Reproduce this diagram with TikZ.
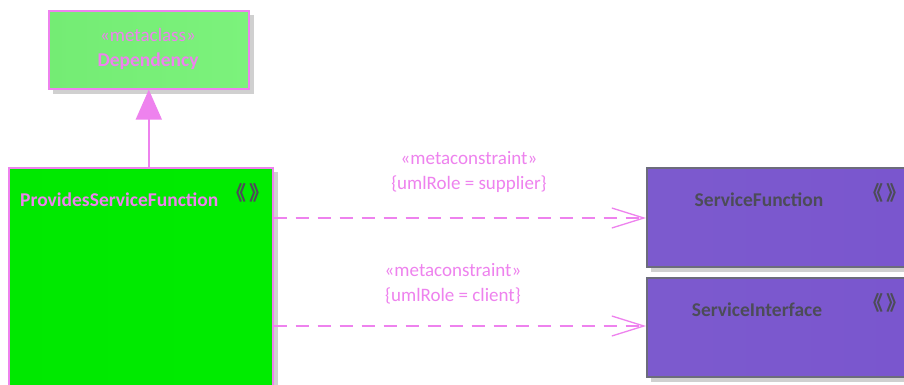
\documentclass[tikz,border=0pt]{standalone}
\usepackage{fontspec}
\setmainfont{Carlito}
\newfontfamily\cjkfont{Noto Sans CJK SC}
\usetikzlibrary{positioning, arrows.meta}

\definecolor{umlviolet}{HTML}{EE82EE}
\definecolor{darkgreytext}{HTML}{4C4C58}
\definecolor{boxgrey}{HTML}{6C6C7C}
\definecolor{shadowgrey}{HTML}{D0D0D0}
\definecolor{metagreenL}{HTML}{74EC74}
\definecolor{metagreenM}{HTML}{9CF49C}
\definecolor{metagreenR}{HTML}{7CF27C}
\definecolor{stgreenL}{HTML}{00E800}
\definecolor{stgreenM}{HTML}{10FA10}
\definecolor{stgreenR}{HTML}{00EC00}
\definecolor{classvioletL}{HTML}{7C5ACE}
\definecolor{classvioletM}{HTML}{9070DA}
\definecolor{classvioletR}{HTML}{7A56CE}

\newcommand{\guillpair}{{\cjkfont\bfseries\fontsize{20}{22}\selectfont 《\kern3pt》}}

\tikzset{
    metabox/.style={draw=umlviolet, line width=1.6pt, anchor=north west, inner sep=0pt},
    classbox/.style={metabox, draw=boxgrey, minimum width=262pt, minimum height=99pt,
        left color=classvioletL, middle color=classvioletM, right color=classvioletR},
    stereo/.style={text=umlviolet, font=\fontsize{19}{22}\selectfont},
    title/.style={font=\fontsize{19.5}{22}\selectfont\bfseries},
    marker/.style={text=darkgreytext, anchor=center, inner sep=0pt},
    constraint/.style={umlviolet, line width=1.3pt, dash pattern=on 13pt off 9pt,
        -{Straight Barb[length=32pt, width=20pt]}},
}

\begin{document}
\begin{tikzpicture}[x=1pt, y=-1pt]
    \useasboundingbox (0,0) rectangle (904,385);
    \clip (0,0) rectangle (904,385);
    \fill[white] (0,0) rectangle (904,385);

    % Shadows
    \fill[shadowgrey] (53,15) rectangle (254,94);
    \fill[shadowgrey] (13,172) rectangle (278,400);
    \fill[shadowgrey] (651,172) rectangle (910,272);
    \fill[shadowgrey] (651,282) rectangle (910,382);

    % Metaclass
    \node[metabox, minimum width=200pt, minimum height=78pt,
          left color=metagreenL, middle color=metagreenM, right color=metagreenR] (dep) at (48,10) {};
    \node[stereo] at (148,35) {«metaclass»};
    \node[stereo, title] at (148,61) {Dependency};

    % Stereotype
    \node[metabox, minimum width=264pt, minimum height=240pt,
          left color=stgreenL, middle color=stgreenM, right color=stgreenR] (psf) at (8,167) {};
    \node[title, text=umlviolet, anchor=west, inner sep=0pt] at (20,200) {ProvidesServiceFunction};
    \node[marker] at (248,193) {\guillpair};

    % Targets
    \node[classbox] (sfun) at (646,167) {};
    \node[title, text=darkgreytext] at (759,200) {ServiceFunction};
    \node[marker] at (885,193) {\guillpair};

    \node[classbox] (sint) at (646,277) {};
    \node[title, text=darkgreytext] at (757,310) {ServiceInterface};
    \node[marker] at (885,303) {\guillpair};

    % Generalization
    \draw[umlviolet, line width=1.6pt, -{Triangle[length=30pt, width=26pt]}]
        (psf.north -| dep.south) -- (dep.south);

    % Constraints
    \coordinate (sup) at (psf.east |- 0,218);
    \coordinate (cli) at (psf.east |- 0,326);
    \draw[constraint] (sup) -- (sup -| sfun.west);
    \draw[constraint] (cli) -- (cli -| sint.west);

    \node[stereo] at (469,158) {«metaconstraint»};
    \node[stereo] at (469,184) {\{umlRole = supplier\}};
    \node[stereo] at (453,270) {«metaconstraint»};
    \node[stereo] at (453,296) {\{umlRole = client\}};
\end{tikzpicture}
\end{document}
